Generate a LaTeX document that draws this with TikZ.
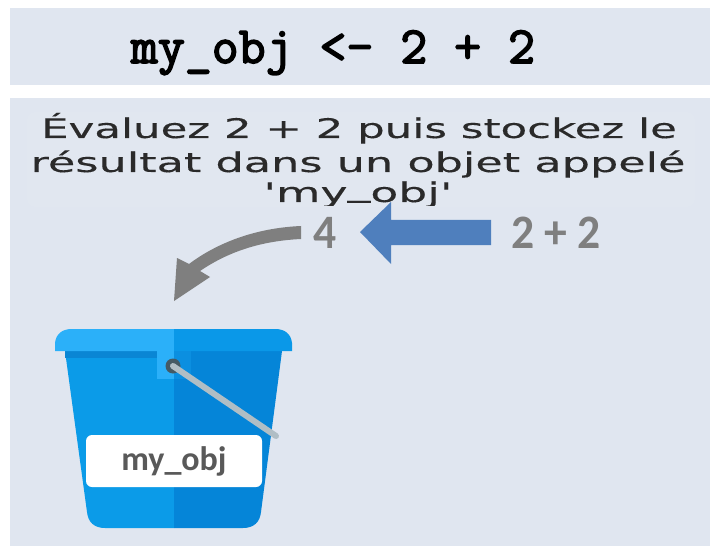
\documentclass[tikz,border=0pt]{standalone}
\usepackage{fontspec}
\newfontfamily\parafont[FakeBold=0.25]{DejaVu Sans}
\newfontfamily\labelfont{Carlito}
\newfontfamily\codefont[FakeBold=3]{Latin Modern Mono}
\definecolor{panel}{HTML}{E0E6F0}
\definecolor{haze}{HTML}{E1E7F0}
\definecolor{inkdark}{HTML}{2A2A2A}
\definecolor{greytxt}{HTML}{7F7F7F}
\definecolor{arrowblue}{HTML}{4F7FBD}
\definecolor{rimL}{HTML}{2BB0F9}
\definecolor{rimR}{HTML}{0A98E8}
\definecolor{bodyL}{HTML}{0B9BE8}
\definecolor{bodyR}{HTML}{0585D8}
\definecolor{shadowL}{HTML}{0A86D4}
\definecolor{hangR}{HTML}{0B8FE0}
\definecolor{handle}{HTML}{B0BEC5}
\definecolor{ring}{HTML}{455A64}
\definecolor{labeltxt}{HTML}{595959}
\tikzset{
  panelbox/.style={fill=panel,draw=none},
  para/.style={font=\parafont\fontsize{27}{27}\selectfont,text=inkdark,inner sep=0pt,anchor=base,xscale=1.61},
  sumtxt/.style={font=\labelfont\bfseries\fontsize{48}{48}\selectfont,text=greytxt,inner sep=0pt,xscale=.95}
}
\begin{document}
\begin{tikzpicture}[x=1pt,y=-1pt]
\useasboundingbox (0,0) rectangle (720,556);
\fill[white] (0,0) rectangle (720,556);
\fill[panelbox] (10,8) rectangle (710,85);
\fill[panelbox] (10,98) rectangle (710,546);
\fill[haze,rounded corners=8pt] (27,112) rectangle (695,207);
\node[inner sep=0pt,text=black,anchor=base] (code) at (333,63) {\codefont\fontsize{52.3}{52}\selectfont my\_obj <- 2 + 2};
\begin{scope}
\clip (10,98) rectangle (710,205.5);
\node[para] (l1) at (359,138) {Évaluez 2 + 2 puis stockez le};
\node[para,xscale=1.025] (l2) at (358,172) {résultat dans un objet appelé};
\node[para,xscale=1.05] (l3) at (358,202) {'my\raisebox{5.5pt}{\_}obj'};
\end{scope}
\node[sumtxt] (four) at (325,233) {4};
\node[sumtxt] (sum) at (556,233) {2 + 2};
\fill[arrowblue] (491,220) -- (391,220) -- (391,202) -- (360,232) -- (391,264) -- (391,245) -- (491,245) -- cycle;
\fill[greytxt] (301,226) .. controls (255,228) and (217,243) .. (189,264) -- (177,258) -- (174,301) -- (210,277) -- (200,271) .. controls (228,252) and (260,241) .. (301,239) -- cycle;
% bucket
\fill[bodyL] (65,351) -- (174,351) -- (174,528) -- (105,528) .. controls (94,528) and (88,522) .. (87,512) -- cycle;
\fill[bodyR] (282,351) -- (174,351) -- (174,528) -- (243,528) .. controls (254,528) and (260,522) .. (261,512) -- cycle;
\fill[shadowL] (65,351) rectangle (157,358);
\fill[rimL] (174,351) -- (55,351) -- (55,343) .. controls (56,334) and (62,329) .. (72,329) -- (174,329) -- cycle;
\fill[rimR] (174,351) -- (292,351) -- (292,343) .. controls (291,334) and (285,329) .. (275,329) -- (174,329) -- cycle;
\fill[rimL] (157,351) rectangle (174,379);
\fill[hangR] (174,351) rectangle (191,379);
\fill[ring] (173,366) circle (7.5);
\draw[handle,line width=6pt,line cap=round] (173,366) -- (276,436);
\node[fill=white,rounded corners=6pt,minimum width=176pt,minimum height=52pt,inner sep=0pt,text=labeltxt,font=\labelfont\bfseries\fontsize{34}{34}\selectfont] (tag) at (174,461) {\raisebox{-2pt}{my\_obj}};
\end{tikzpicture}
\end{document}
